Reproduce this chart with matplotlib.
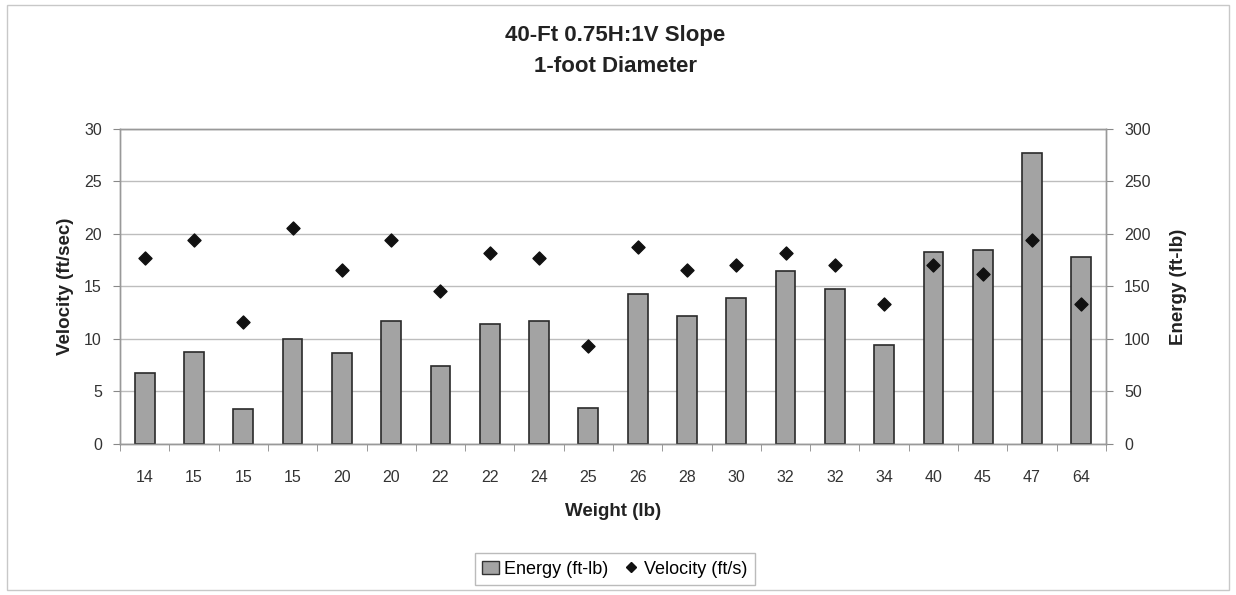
import matplotlib
matplotlib.use("Agg")
import matplotlib.pyplot as plt
from matplotlib.lines import Line2D
from matplotlib.patches import Patch, Rectangle
import numpy as np

plt.rcParams['font.family'] = ['Liberation Sans', 'DejaVu Sans']

weights = ["14", "15", "15", "15", "20", "20", "22", "22", "24", "25",
           "26", "28", "30", "32", "32", "34", "40", "45", "47", "64"]
energy = [68, 88, 33, 100, 87, 117, 74, 114, 117, 34,
          143, 122, 139, 165, 148, 94, 183, 185, 277, 178]
velocity = [17.7, 19.4, 11.65, 20.6, 16.6, 19.4, 14.6, 18.2, 17.7, 9.3,
            18.8, 16.6, 17.0, 18.2, 17.0, 13.3, 17.0, 16.2, 19.4, 13.3]

fig = plt.figure(figsize=(12.36, 5.95), dpi=100)
fig.patches.append(Rectangle((0.006, 0.008), 0.988, 0.984, transform=fig.transFigure,
                             fill=False, edgecolor='#c8c8c8', linewidth=1.0))

ax = fig.add_axes([0.0971, 0.2538, 0.7977, 0.5294])
ax2 = ax.twinx()
ax.set_zorder(ax2.get_zorder() + 1)
ax.patch.set_visible(False)

x = np.arange(len(weights))
ax2.bar(x, energy, width=0.4, color='#a3a3a3', edgecolor='#2a2a2a', linewidth=1.2, zorder=3)
ax2.set_ylim(0, 300)
ax2.set_yticks(np.arange(0, 301, 50))
ax2.yaxis.grid(True, color='#bdbdbd', linewidth=1.0)
ax2.set_axisbelow(True)

ax.scatter(x, velocity, marker='D', s=44, color='#111111', zorder=5)
ax.set_ylim(0, 30)
ax.set_yticks(np.arange(0, 31, 5))
ax.set_xlim(-0.5, len(weights) - 0.5)
ax.set_xticks(x)
ax.set_xticklabels(weights)
ax.set_xticks(np.arange(-0.5, len(weights), 1.0), minor=True)
ax.tick_params(axis='x', which='major', length=0, pad=19)
ax.tick_params(axis='x', which='minor', length=5, color='#888888')
ax.tick_params(axis='y', length=5, color='#888888', pad=8)
ax2.tick_params(axis='y', length=5, color='#888888', pad=8)

for a in (ax, ax2):
    for s in a.spines.values():
        s.set_color('#999999')
        s.set_linewidth(1.0)
    a.tick_params(labelsize=11.5, labelcolor='#333333')

ax.set_xlabel("Weight (lb)", fontsize=13.5, fontweight='bold', labelpad=13, color='#222222')
ax.set_ylabel("Velocity (ft/sec)", fontsize=13.5, fontweight='bold', labelpad=7, color='#222222')
ax2.set_ylabel("Energy (ft-lb)", fontsize=13.5, fontweight='bold', labelpad=14, color='#222222')

fig.text(0.4976, 1 - 35 / 595, "40-Ft 0.75H:1V Slope", ha='center', va='center',
         fontsize=16, fontweight='bold', color='#222222')
fig.text(0.4976, 1 - 66 / 595, "1-foot Diameter", ha='center', va='center',
         fontsize=16, fontweight='bold', color='#222222')

handles = [Patch(facecolor='#a3a3a3', edgecolor='#333333', label='Energy (ft-lb)'),
           Line2D([], [], marker='D', linestyle='none', color='#111111', markersize=5,
                  label='Velocity (ft/s)')]
leg = fig.legend(handles=handles, loc='center', bbox_to_anchor=(0.4976, 1 - 569 / 595), ncol=2,
                 fontsize=13, frameon=True, fancybox=False, handlelength=0.9,
                 handletextpad=0.3, columnspacing=0.8, borderpad=0.4)
leg.get_frame().set_edgecolor('#aaaaaa')
leg.get_frame().set_linewidth(1.0)

fig.savefig("out.png", dpi=100)
